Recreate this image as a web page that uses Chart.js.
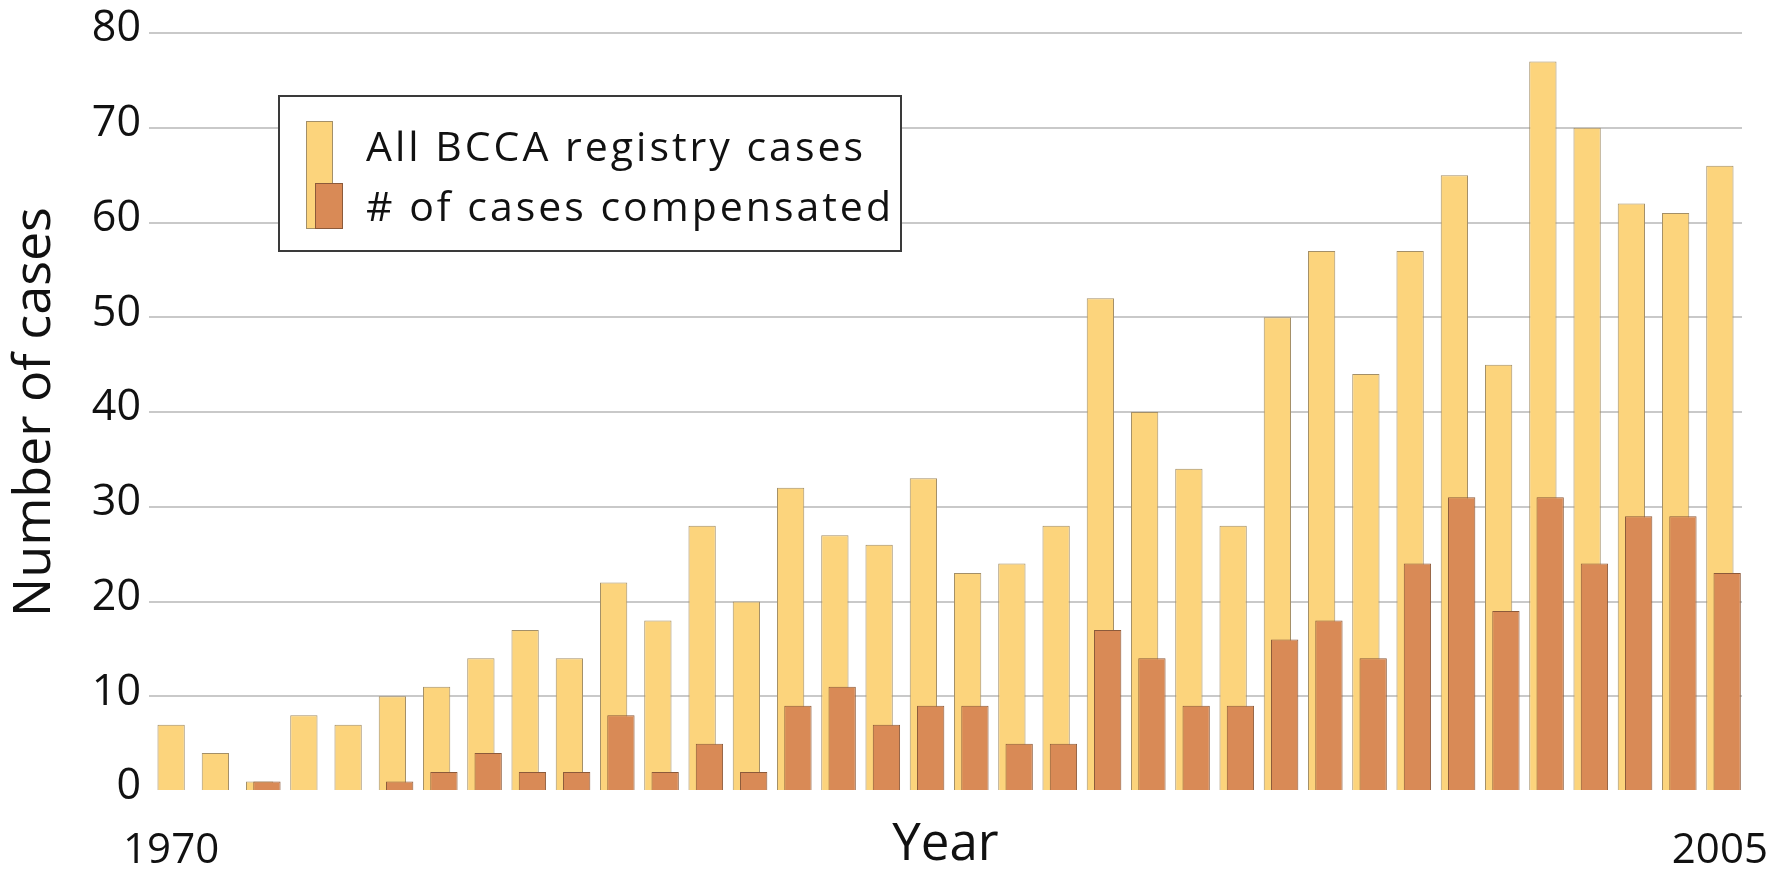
<!DOCTYPE html>
<html>
<head>
<meta charset="utf-8">
<title>BCCA registry cases</title>
<script src="https://cdn.jsdelivr.net/npm/chart.js@4/dist/chart.umd.min.js"></script>
<style>
  body { margin: 0; background: #fff; }
  #wrap { width: 1773px; height: 869px; }
</style>
</head>
<body>
<div id="wrap"><canvas id="casesChart"></canvas></div>
<script>
// Values
const years = [
  "1970", "1971", "1972", "1973", "1974", "1975", "1976", "1977", "1978",
  "1979", "1980", "1981", "1982", "1983", "1984", "1985", "1986", "1987",
  "1988", "1989", "1990", "1991", "1992", "1993", "1994", "1995", "1996",
  "1997", "1998", "1999", "2000", "2001", "2002", "2003", "2004", "2005",
];
const allCases = [
  7, 4, 1, 8, 7, 10, 11, 14, 17, 14, 22, 18, 28, 20, 32, 27, 26, 33,
  23, 24, 28, 52, 40, 34, 28, 50, 57, 44, 57, 65, 45, 77, 70, 62, 61, 66,
];
const compensated = [
  null, null, 1, null, null, 1, 2, 4, 2, 2, 8, 2, 5, 2, 9, 11, 7, 9,
  9, 5, 5, 17, 14, 9, 9, 16, 18, 14, 24, 31, 19, 31, 24, 29, 29, 23,
];
const shownYears = ["1970", "2005"];
const yTicks = [0, 10, 20, 30, 40, 50, 60, 70, 80];

const YELLOW = "#fcd47c";
const ORANGE = "#d98a56";
const FONT = "'Open Sans', sans-serif";

Chart.defaults.font.family = FONT;
Chart.defaults.color = "#111";

// orange bars sit a little to the right of the yellow ones
const shiftBars = {
  id: "shiftBars",
  beforeDatasetDraw(chart, args) {
    if (args.index !== 1) return;
    const step = chart.scales.x.width / years.length;
    chart.ctx.save();
    chart.ctx.translate(step * 0.165, 0);
  },
  afterDatasetDraw(chart, args) {
    if (args.index === 1) chart.ctx.restore();
  },
};

// boxed legend with the overlapping swatch
const boxLegend = {
  id: "boxLegend",
  afterDraw(chart) {
    const ctx = chart.ctx;
    const ds = chart.data.datasets;
    ctx.save();
    ctx.fillStyle = "#fff";
    ctx.fillRect(279, 96, 622, 155);
    ctx.strokeStyle = "#3a3a3a";
    ctx.lineWidth = 2;
    ctx.strokeRect(279, 96, 622, 155);

    ctx.lineWidth = 1;
    ctx.fillStyle = ds[0].backgroundColor;
    ctx.strokeStyle = ds[0].borderColor;
    ctx.fillRect(306, 121, 27, 108);
    ctx.strokeRect(306.5, 121.5, 26, 107);
    ctx.fillStyle = ds[1].backgroundColor;
    ctx.strokeStyle = ds[1].borderColor;
    ctx.fillRect(315, 183, 28, 46);
    ctx.strokeRect(315.5, 183.5, 27, 45);

    ctx.fillStyle = "#111";
    ctx.font = "41px " + FONT;
    ctx.letterSpacing = "3px";
    ctx.textBaseline = "alphabetic";
    ctx.fillText(ds[0].label, 366, 161);
    ctx.fillText(ds[1].label, 366, 221);
    ctx.restore();
  },
};

new Chart(document.getElementById("casesChart"), {
  type: "bar",
  data: {
    labels: years,
    datasets: [
      {
        label: "All BCCA registry cases",
        data: allCases,
        backgroundColor: YELLOW,
        borderColor: "#a38f68",
        borderWidth: 1,
        barPercentage: 0.617,
        categoryPercentage: 1,
        order: 2,
      },
      {
        label: "# of cases compensated",
        data: compensated,
        backgroundColor: ORANGE,
        borderColor: "#8c5a3a",
        borderWidth: 1,
        barPercentage: 0.617,
        categoryPercentage: 1,
        order: 1,
      },
    ],
  },
  options: {
    responsive: true,
    maintainAspectRatio: false,
    animation: false,
    layout: { padding: { top: 33, right: 31, left: 0, bottom: 0 } },
    plugins: {
      legend: { display: false },
      tooltip: { enabled: false },
    },
    datasets: { bar: { grouped: false } },
    scales: {
      x: {
        grid: { display: false },
        border: { display: false },
        ticks: {
          autoSkip: false,
          maxRotation: 0,
          padding: 27,
          font: { size: 42 },
          callback(value) {
            const lab = this.getLabelForValue(value);
            return shownYears.includes(lab) ? lab : "";
          },
        },
        title: {
          display: true,
          text: "Year",
          font: { size: 51 },
          padding: { top: 0, bottom: -7 },
        },
        afterFit(scale) {
          scale.height = 78;
          scale.paddingLeft = 0;
          scale.paddingRight = 0;
        },
      },
      y: {
        min: 0,
        max: 80,
        grid: {
          drawTicks: false,
          lineWidth: 2,
          color: (c) => (c.tick && c.tick.value === 0 ? "rgba(0,0,0,0)" : "#c9c9c9"),
        },
        border: { display: false },
        afterBuildTicks(scale) {
          scale.ticks = yTicks.map((v) => ({ value: v }));
        },
        ticks: {
          padding: 8,
          labelOffset: -4,
          font: { size: 43 },
        },
        title: {
          display: true,
          text: "Number of cases",
          font: { size: 52 },
          padding: { top: 4, bottom: 0 },
        },
        afterFit(scale) {
          scale.width = 149;
          scale.paddingTop = 0;
          scale.paddingBottom = 0;
        },
      },
    },
  },
  plugins: [shiftBars, boxLegend],
});
</script>
</body>
</html>
